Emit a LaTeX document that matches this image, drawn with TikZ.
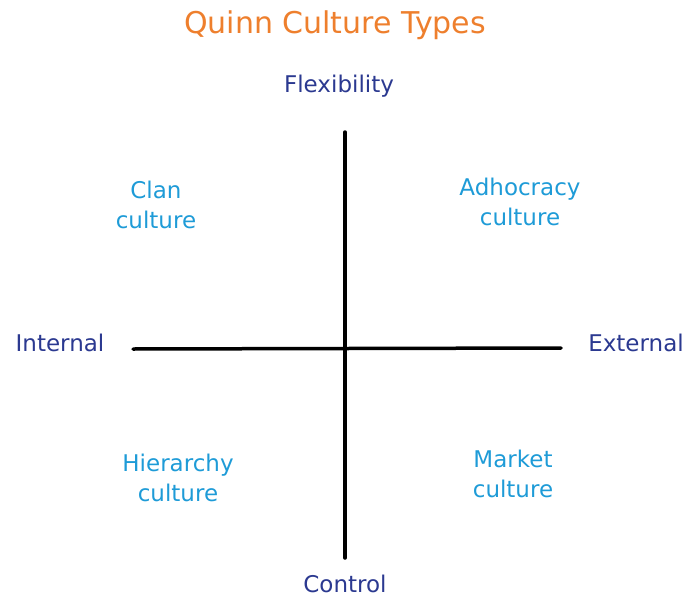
\documentclass[tikz,border=0pt]{standalone}
\usepackage{fontspec}
\setmainfont{DejaVu Sans}
\usepackage{xcolor}
\usetikzlibrary{positioning}

\definecolor{titleorange}{HTML}{EE7F2D}
\definecolor{axisnavy}{HTML}{2B3990}
\definecolor{quadblue}{HTML}{1E9BD7}

\tikzset{
    titletext/.style={text=titleorange, inner sep=0pt, font=\fontsize{30}{36}\selectfont},
    axislabel/.style={text=axisnavy, inner sep=0pt, font=\fontsize{23}{30}\selectfont},
    quadlabel/.style={text=quadblue, inner sep=0pt, align=center, font=\fontsize{23}{30}\selectfont},
    axisline/.style={line width=3.5pt, line cap=round, black}
}

\begin{document}
\begin{tikzpicture}[x=1pt,y=-1pt]
    \useasboundingbox (0,0) rectangle (688,597);

    % Title
    \node[titletext] (title) at (335,25) {Quinn Culture Types};

    % Axis end labels
    \node[axislabel] (flex) at (339,86) {Flexibility};
    \node[axislabel] (control) at (345,584) {Control};
    \node[axislabel] (internal) at (60,343) {Internal};
    \node[axislabel] (external) at (636,343) {External};

    % Axes
    \coordinate (vtop) at (345,132);
    \coordinate (vbot) at (345,558);
    \coordinate (hleft) at (133,349);
    \coordinate (hright) at (561,348);
    \draw[axisline] (vtop) -- (vbot);
    \draw[axisline] (hleft) -- (hright);

    % Quadrants
    \node[quadlabel] (clan) at (156,205) {Clan\\culture};
    \node[quadlabel] (adhocracy) at (520,202) {Adhocracy\\culture};
    \node[quadlabel] (hierarchy) at (178,478) {Hierarchy\\culture};
    \node[quadlabel] (market) at (513,474) {Market\\culture};
\end{tikzpicture}
\end{document}
